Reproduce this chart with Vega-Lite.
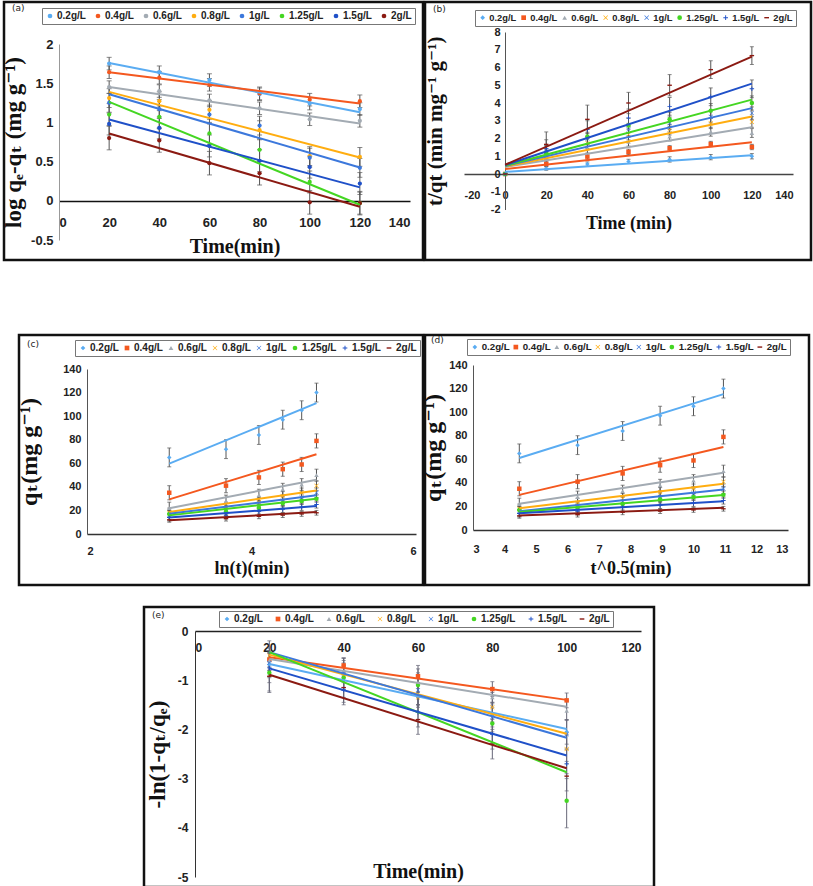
{
"$schema": "https://vega.github.io/schema/vega-lite/v6.json",
"padding": {"left": 0, "top": 0, "right": 1, "bottom": 1},
"background": "white",
"config": {
  "view": {"stroke": "#111", "strokeWidth": 2.5},
  "axis": {"grid": false, "ticks": false, "labelFont": "Liberation Sans, Arial, sans-serif", "labelFontWeight": "bold", "labelColor": "#222", "titleFont": "Liberation Serif, DejaVu Serif, serif", "titleFontWeight": "bold", "titleColor": "#111", "domainColor": "#555", "labelOverlap": false},
  "legend": {"labelFont": "Liberation Sans, Arial, sans-serif", "labelFontWeight": "bold", "labelFontSize": 10, "labelColor": "#222", "symbolSize": 22, "strokeColor": "#777", "padding": 3, "labelOffset": 2, "fillColor": "#fff", "symbolStrokeWidth": 0, "rowPadding": 0, "direction": "horizontal", "columns": 8, "gridAlign": "each"},
  "title": {"font": "DejaVu Sans", "fontSize": 9, "fontWeight": "normal", "color": "#222"}
},
"datasets": {
  "pa": [
    {"s":"0.2g/L","x":20,"y":1.75,"e":0.08},{"s":"0.2g/L","x":40,"y":1.64,"e":0.08},{"s":"0.2g/L","x":60,"y":1.54,"e":0.08},{"s":"0.2g/L","x":80,"y":1.36,"e":0.08},{"s":"0.2g/L","x":100,"y":1.24,"e":0.08},{"s":"0.2g/L","x":120,"y":1.17,"e":0.08},
    {"s":"0.4g/L","x":20,"y":1.64,"e":0.08},{"s":"0.4g/L","x":40,"y":1.57,"e":0.08},{"s":"0.4g/L","x":60,"y":1.48,"e":0.08},{"s":"0.4g/L","x":80,"y":1.37,"e":0.08},{"s":"0.4g/L","x":100,"y":1.29,"e":0.08},{"s":"0.4g/L","x":120,"y":1.27,"e":0.08},
    {"s":"0.6g/L","x":20,"y":1.45,"e":0.08},{"s":"0.6g/L","x":40,"y":1.40,"e":0.08},{"s":"0.6g/L","x":60,"y":1.28,"e":0.08},{"s":"0.6g/L","x":80,"y":1.18,"e":0.08},{"s":"0.6g/L","x":100,"y":1.04,"e":0.08},{"s":"0.6g/L","x":120,"y":1.02,"e":0.08},
    {"s":"0.8g/L","x":20,"y":1.31,"e":0.12},{"s":"0.8g/L","x":40,"y":1.27,"e":0.12},{"s":"0.8g/L","x":60,"y":1.16,"e":0.12},{"s":"0.8g/L","x":80,"y":0.90,"e":0.12},{"s":"0.8g/L","x":100,"y":0.57,"e":0.12},{"s":"0.8g/L","x":120,"y":0.56,"e":0.12},
    {"s":"1g/L","x":20,"y":1.25,"e":0.12},{"s":"1g/L","x":40,"y":1.17,"e":0.12},{"s":"1g/L","x":60,"y":1.10,"e":0.12},{"s":"1g/L","x":80,"y":0.96,"e":0.12},{"s":"1g/L","x":100,"y":0.55,"e":0.12},{"s":"1g/L","x":120,"y":0.42,"e":0.12},
    {"s":"1.25g/L","x":20,"y":1.10,"e":0.14},{"s":"1.25g/L","x":40,"y":1.07,"e":0.14},{"s":"1.25g/L","x":60,"y":0.86,"e":0.14},{"s":"1.25g/L","x":80,"y":0.65,"e":0.14},{"s":"1.25g/L","x":100,"y":0.24,"e":0.14},{"s":"1.25g/L","x":120,"y":-0.03,"e":0.14},
    {"s":"1.5g/L","x":20,"y":0.98,"e":0.14},{"s":"1.5g/L","x":40,"y":0.93,"e":0.14},{"s":"1.5g/L","x":60,"y":0.70,"e":0.14},{"s":"1.5g/L","x":80,"y":0.51,"e":0.14},{"s":"1.5g/L","x":100,"y":0.43,"e":0.14},{"s":"1.5g/L","x":120,"y":0.22,"e":0.14},
    {"s":"2g/L","x":20,"y":0.80,"e":0.15},{"s":"2g/L","x":40,"y":0.77,"e":0.15},{"s":"2g/L","x":60,"y":0.48,"e":0.15},{"s":"2g/L","x":80,"y":0.35,"e":0.15},{"s":"2g/L","x":100,"y":-0.02,"e":0.15},{"s":"2g/L","x":120,"y":-0.03,"e":0.15}
  ],
  "la": [
    {"s":"0.2g/L","x":20,"y":1.758},{"s":"0.2g/L","x":120,"y":1.130},
    {"s":"0.4g/L","x":20,"y":1.639},{"s":"0.4g/L","x":120,"y":1.241},
    {"s":"0.6g/L","x":20,"y":1.452},{"s":"0.6g/L","x":120,"y":0.986},
    {"s":"0.8g/L","x":20,"y":1.389},{"s":"0.8g/L","x":120,"y":0.553},
    {"s":"1g/L","x":20,"y":1.359},{"s":"1g/L","x":120,"y":0.425},
    {"s":"1.25g/L","x":20,"y":1.261},{"s":"1.25g/L","x":120,"y":-0.05},
    {"s":"1.5g/L","x":20,"y":1.037},{"s":"1.5g/L","x":120,"y":0.171},
    {"s":"2g/L","x":20,"y":0.859},{"s":"2g/L","x":120,"y":-0.076}
  ],
  "pb": [
    {"s":"0.2g/L","x":0,"y":0,"e":0},{"s":"0.2g/L","x":20,"y":0.31,"e":0.1},{"s":"0.2g/L","x":40,"y":0.56,"e":0.12},{"s":"0.2g/L","x":60,"y":0.71,"e":0.12},{"s":"0.2g/L","x":80,"y":0.82,"e":0.15},{"s":"0.2g/L","x":100,"y":0.95,"e":0.15},{"s":"0.2g/L","x":120,"y":1.00,"e":0.15},
    {"s":"0.4g/L","x":0,"y":0,"e":0},{"s":"0.4g/L","x":20,"y":0.57,"e":0.15},{"s":"0.4g/L","x":40,"y":0.98,"e":0.15},{"s":"0.4g/L","x":60,"y":1.25,"e":0.15},{"s":"0.4g/L","x":80,"y":1.45,"e":0.15},{"s":"0.4g/L","x":100,"y":1.69,"e":0.15},{"s":"0.4g/L","x":120,"y":1.52,"e":0.15},
    {"s":"0.6g/L","x":0,"y":0,"e":0},{"s":"0.6g/L","x":20,"y":0.91,"e":0.25},{"s":"0.6g/L","x":40,"y":1.43,"e":0.25},{"s":"0.6g/L","x":60,"y":1.82,"e":0.25},{"s":"0.6g/L","x":80,"y":2.11,"e":0.25},{"s":"0.6g/L","x":100,"y":2.38,"e":0.25},{"s":"0.6g/L","x":120,"y":2.31,"e":0.25},
    {"s":"0.8g/L","x":0,"y":0,"e":0},{"s":"0.8g/L","x":20,"y":1.11,"e":0.3},{"s":"0.8g/L","x":40,"y":1.74,"e":0.3},{"s":"0.8g/L","x":60,"y":2.22,"e":0.3},{"s":"0.8g/L","x":80,"y":2.50,"e":0.3},{"s":"0.8g/L","x":100,"y":2.86,"e":0.3},{"s":"0.8g/L","x":120,"y":2.93,"e":0.3},
    {"s":"1g/L","x":0,"y":0,"e":0},{"s":"1g/L","x":20,"y":1.25,"e":0.35},{"s":"1g/L","x":40,"y":2.00,"e":0.35},{"s":"1g/L","x":60,"y":2.50,"e":0.35},{"s":"1g/L","x":80,"y":2.86,"e":0.35},{"s":"1g/L","x":100,"y":3.23,"e":0.35},{"s":"1g/L","x":120,"y":3.43,"e":0.35},
    {"s":"1.25g/L","x":0,"y":0,"e":0},{"s":"1.25g/L","x":20,"y":1.18,"e":0.4},{"s":"1.25g/L","x":40,"y":2.11,"e":0.4},{"s":"1.25g/L","x":60,"y":2.73,"e":0.4},{"s":"1.25g/L","x":80,"y":3.08,"e":0.4},{"s":"1.25g/L","x":100,"y":3.57,"e":0.4},{"s":"1.25g/L","x":120,"y":4.00,"e":0.4},
    {"s":"1.5g/L","x":0,"y":0,"e":0},{"s":"1.5g/L","x":20,"y":1.43,"e":0.5},{"s":"1.5g/L","x":40,"y":2.50,"e":0.5},{"s":"1.5g/L","x":60,"y":3.16,"e":0.5},{"s":"1.5g/L","x":80,"y":3.81,"e":0.5},{"s":"1.5g/L","x":100,"y":4.35,"e":0.5},{"s":"1.5g/L","x":120,"y":4.80,"e":0.5},
    {"s":"2g/L","x":0,"y":0,"e":0},{"s":"2g/L","x":20,"y":1.67,"e":0.7},{"s":"2g/L","x":40,"y":3.08,"e":0.8},{"s":"2g/L","x":60,"y":4.00,"e":0.6},{"s":"2g/L","x":80,"y":5.00,"e":0.6},{"s":"2g/L","x":100,"y":5.88,"e":0.5},{"s":"2g/L","x":120,"y":6.67,"e":0.5}
  ],
  "lb": [
    {"s":"0.2g/L","x":0,"y":0.12},{"s":"0.2g/L","x":120,"y":1.05},
    {"s":"0.4g/L","x":0,"y":0.28},{"s":"0.4g/L","x":120,"y":1.79},
    {"s":"0.6g/L","x":0,"y":0.40},{"s":"0.6g/L","x":120,"y":2.63},
    {"s":"0.8g/L","x":0,"y":0.42},{"s":"0.8g/L","x":120,"y":3.24},
    {"s":"1g/L","x":0,"y":0.45},{"s":"1g/L","x":120,"y":3.71},
    {"s":"1.25g/L","x":0,"y":0.47},{"s":"1.25g/L","x":120,"y":4.19},
    {"s":"1.5g/L","x":0,"y":0.50},{"s":"1.5g/L","x":120,"y":5.09},
    {"s":"2g/L","x":0,"y":0.52},{"s":"2g/L","x":120,"y":6.61}
  ],
  "pc": [
    {"s":"0.2g/L","x":3.0,"y":65,"e":8},{"s":"0.2g/L","x":3.69,"y":72,"e":8},{"s":"0.2g/L","x":4.09,"y":84,"e":8},{"s":"0.2g/L","x":4.38,"y":97,"e":8},{"s":"0.2g/L","x":4.61,"y":105,"e":8},{"s":"0.2g/L","x":4.79,"y":120,"e":8},
    {"s":"0.4g/L","x":3.0,"y":35,"e":6},{"s":"0.4g/L","x":3.69,"y":41,"e":6},{"s":"0.4g/L","x":4.09,"y":48,"e":6},{"s":"0.4g/L","x":4.38,"y":55,"e":6},{"s":"0.4g/L","x":4.61,"y":59,"e":6},{"s":"0.4g/L","x":4.79,"y":79,"e":6},
    {"s":"0.6g/L","x":3.0,"y":22,"e":5},{"s":"0.6g/L","x":3.69,"y":28,"e":5},{"s":"0.6g/L","x":4.09,"y":33,"e":5},{"s":"0.6g/L","x":4.38,"y":38,"e":5},{"s":"0.6g/L","x":4.61,"y":42,"e":5},{"s":"0.6g/L","x":4.79,"y":50,"e":5},
    {"s":"0.8g/L","x":3.0,"y":18,"e":4},{"s":"0.8g/L","x":3.69,"y":23,"e":4},{"s":"0.8g/L","x":4.09,"y":27,"e":4},{"s":"0.8g/L","x":4.38,"y":32,"e":4},{"s":"0.8g/L","x":4.61,"y":35,"e":4},{"s":"0.8g/L","x":4.79,"y":41,"e":4},
    {"s":"1g/L","x":3.0,"y":16,"e":4},{"s":"1g/L","x":3.69,"y":20,"e":4},{"s":"1g/L","x":4.09,"y":24,"e":4},{"s":"1g/L","x":4.38,"y":28,"e":4},{"s":"1g/L","x":4.61,"y":31,"e":4},{"s":"1g/L","x":4.79,"y":35,"e":4},
    {"s":"1.25g/L","x":3.0,"y":17,"e":3},{"s":"1.25g/L","x":3.69,"y":19,"e":3},{"s":"1.25g/L","x":4.09,"y":22,"e":3},{"s":"1.25g/L","x":4.38,"y":26,"e":3},{"s":"1.25g/L","x":4.61,"y":28,"e":3},{"s":"1.25g/L","x":4.79,"y":30,"e":3},
    {"s":"1.5g/L","x":3.0,"y":14,"e":3},{"s":"1.5g/L","x":3.69,"y":16,"e":3},{"s":"1.5g/L","x":4.09,"y":19,"e":3},{"s":"1.5g/L","x":4.38,"y":21,"e":3},{"s":"1.5g/L","x":4.61,"y":23,"e":3},{"s":"1.5g/L","x":4.79,"y":25,"e":3},
    {"s":"2g/L","x":3.0,"y":12,"e":2},{"s":"2g/L","x":3.69,"y":13,"e":2},{"s":"2g/L","x":4.09,"y":15,"e":2},{"s":"2g/L","x":4.38,"y":16,"e":2},{"s":"2g/L","x":4.61,"y":17,"e":2},{"s":"2g/L","x":4.79,"y":18,"e":2}
  ],
  "lc": [
    {"s":"0.2g/L","x":3.0,"y":59.7},{"s":"0.2g/L","x":4.79,"y":111},
    {"s":"0.4g/L","x":3.0,"y":29.4},{"s":"0.4g/L","x":4.79,"y":67.6},
    {"s":"0.6g/L","x":3.0,"y":21.8},{"s":"0.6g/L","x":4.79,"y":46.1},
    {"s":"0.8g/L","x":3.0,"y":18.7},{"s":"0.8g/L","x":4.79,"y":37.0},
    {"s":"1g/L","x":3.0,"y":17.2},{"s":"1g/L","x":4.79,"y":32.8},
    {"s":"1.25g/L","x":3.0,"y":15.8},{"s":"1.25g/L","x":4.79,"y":30.0},
    {"s":"1.5g/L","x":3.0,"y":13.9},{"s":"1.5g/L","x":4.79,"y":23.7},
    {"s":"2g/L","x":3.0,"y":11.6},{"s":"2g/L","x":4.79,"y":18.7}
  ],
  "pd": [
    {"s":"0.2g/L","x":4.47,"y":65,"e":8},{"s":"0.2g/L","x":6.32,"y":72,"e":8},{"s":"0.2g/L","x":7.75,"y":84,"e":8},{"s":"0.2g/L","x":8.94,"y":97,"e":8},{"s":"0.2g/L","x":10.0,"y":105,"e":8},{"s":"0.2g/L","x":10.95,"y":120,"e":8},
    {"s":"0.4g/L","x":4.47,"y":35,"e":6},{"s":"0.4g/L","x":6.32,"y":41,"e":6},{"s":"0.4g/L","x":7.75,"y":48,"e":6},{"s":"0.4g/L","x":8.94,"y":55,"e":6},{"s":"0.4g/L","x":10.0,"y":59,"e":6},{"s":"0.4g/L","x":10.95,"y":79,"e":6},
    {"s":"0.6g/L","x":4.47,"y":22,"e":5},{"s":"0.6g/L","x":6.32,"y":28,"e":5},{"s":"0.6g/L","x":7.75,"y":33,"e":5},{"s":"0.6g/L","x":8.94,"y":38,"e":5},{"s":"0.6g/L","x":10.0,"y":42,"e":5},{"s":"0.6g/L","x":10.95,"y":50,"e":5},
    {"s":"0.8g/L","x":4.47,"y":18,"e":4},{"s":"0.8g/L","x":6.32,"y":23,"e":4},{"s":"0.8g/L","x":7.75,"y":27,"e":4},{"s":"0.8g/L","x":8.94,"y":32,"e":4},{"s":"0.8g/L","x":10.0,"y":35,"e":4},{"s":"0.8g/L","x":10.95,"y":41,"e":4},
    {"s":"1g/L","x":4.47,"y":16,"e":4},{"s":"1g/L","x":6.32,"y":20,"e":4},{"s":"1g/L","x":7.75,"y":24,"e":4},{"s":"1g/L","x":8.94,"y":28,"e":4},{"s":"1g/L","x":10.0,"y":31,"e":4},{"s":"1g/L","x":10.95,"y":35,"e":4},
    {"s":"1.25g/L","x":4.47,"y":17,"e":3},{"s":"1.25g/L","x":6.32,"y":19,"e":3},{"s":"1.25g/L","x":7.75,"y":22,"e":3},{"s":"1.25g/L","x":8.94,"y":26,"e":3},{"s":"1.25g/L","x":10.0,"y":28,"e":3},{"s":"1.25g/L","x":10.95,"y":30,"e":3},
    {"s":"1.5g/L","x":4.47,"y":14,"e":3},{"s":"1.5g/L","x":6.32,"y":16,"e":3},{"s":"1.5g/L","x":7.75,"y":19,"e":3},{"s":"1.5g/L","x":8.94,"y":21,"e":3},{"s":"1.5g/L","x":10.0,"y":23,"e":3},{"s":"1.5g/L","x":10.95,"y":25,"e":3},
    {"s":"2g/L","x":4.47,"y":12,"e":2},{"s":"2g/L","x":6.32,"y":13,"e":2},{"s":"2g/L","x":7.75,"y":15,"e":2},{"s":"2g/L","x":8.94,"y":16,"e":2},{"s":"2g/L","x":10.0,"y":17,"e":2},{"s":"2g/L","x":10.95,"y":18,"e":2}
  ],
  "ld": [
    {"s":"0.2g/L","x":4.47,"y":61.1},{"s":"0.2g/L","x":10.95,"y":115.3},
    {"s":"0.4g/L","x":4.47,"y":29.8},{"s":"0.4g/L","x":10.95,"y":70.5},
    {"s":"0.6g/L","x":4.47,"y":22.2},{"s":"0.6g/L","x":10.95,"y":48.6},
    {"s":"0.8g/L","x":4.47,"y":18.5},{"s":"0.8g/L","x":10.95,"y":39.2},
    {"s":"1g/L","x":4.47,"y":15.9},{"s":"1g/L","x":10.95,"y":34.4},
    {"s":"1.25g/L","x":4.47,"y":15.3},{"s":"1.25g/L","x":10.95,"y":29.8},
    {"s":"1.5g/L","x":4.47,"y":14.2},{"s":"1.5g/L","x":10.95,"y":24.4},
    {"s":"2g/L","x":4.47,"y":12.2},{"s":"2g/L","x":10.95,"y":18.8}
  ],
  "pe": [
    {"s":"0.2g/L","x":20,"y":-0.68,"e":0.25},{"s":"0.2g/L","x":40,"y":-0.95,"e":0.25},{"s":"0.2g/L","x":60,"y":-1.30,"e":0.25},{"s":"0.2g/L","x":80,"y":-1.70,"e":0.25},{"s":"0.2g/L","x":100,"y":-2.05,"e":0.25},
    {"s":"0.4g/L","x":20,"y":-0.58,"e":0.15},{"s":"0.4g/L","x":40,"y":-0.70,"e":0.15},{"s":"0.4g/L","x":60,"y":-0.92,"e":0.15},{"s":"0.4g/L","x":80,"y":-1.18,"e":0.15},{"s":"0.4g/L","x":100,"y":-1.41,"e":0.15},
    {"s":"0.6g/L","x":20,"y":-0.60,"e":0.2},{"s":"0.6g/L","x":40,"y":-0.85,"e":0.2},{"s":"0.6g/L","x":60,"y":-1.05,"e":0.2},{"s":"0.6g/L","x":80,"y":-1.35,"e":0.2},{"s":"0.6g/L","x":100,"y":-1.62,"e":0.2},
    {"s":"0.8g/L","x":20,"y":-0.50,"e":0.3},{"s":"0.8g/L","x":40,"y":-0.90,"e":0.3},{"s":"0.8g/L","x":60,"y":-1.35,"e":0.3},{"s":"0.8g/L","x":80,"y":-1.55,"e":0.3},{"s":"0.8g/L","x":100,"y":-2.40,"e":0.3},
    {"s":"1g/L","x":20,"y":-0.65,"e":0.3},{"s":"1g/L","x":40,"y":-0.85,"e":0.3},{"s":"1g/L","x":60,"y":-1.20,"e":0.3},{"s":"1g/L","x":80,"y":-1.75,"e":0.3},{"s":"1g/L","x":100,"y":-2.10,"e":0.3},
    {"s":"1.25g/L","x":20,"y":-0.85,"e":0.4},{"s":"1.25g/L","x":40,"y":-0.95,"e":0.4},{"s":"1.25g/L","x":60,"y":-1.10,"e":0.4},{"s":"1.25g/L","x":80,"y":-1.88,"e":0.4},{"s":"1.25g/L","x":100,"y":-3.45,"e":0.55},
    {"s":"1.5g/L","x":20,"y":-0.75,"e":0.3},{"s":"1.5g/L","x":40,"y":-1.20,"e":0.3},{"s":"1.5g/L","x":60,"y":-1.65,"e":0.3},{"s":"1.5g/L","x":80,"y":-2.10,"e":0.3},{"s":"1.5g/L","x":100,"y":-2.70,"e":0.3},
    {"s":"2g/L","x":20,"y":-0.92,"e":0.3},{"s":"2g/L","x":40,"y":-1.15,"e":0.3},{"s":"2g/L","x":60,"y":-1.80,"e":0.3},{"s":"2g/L","x":80,"y":-2.30,"e":0.3},{"s":"2g/L","x":100,"y":-2.95,"e":0.3}
  ],
  "le": [
    {"s":"0.2g/L","x":20,"y":-0.67},{"s":"0.2g/L","x":100,"y":-1.99},
    {"s":"0.4g/L","x":20,"y":-0.535},{"s":"0.4g/L","x":100,"y":-1.40},
    {"s":"0.6g/L","x":20,"y":-0.57},{"s":"0.6g/L","x":100,"y":-1.54},
    {"s":"0.8g/L","x":20,"y":-0.48},{"s":"0.8g/L","x":100,"y":-2.09},
    {"s":"1g/L","x":20,"y":-0.43},{"s":"1g/L","x":100,"y":-2.17},
    {"s":"1.25g/L","x":20,"y":-0.43},{"s":"1.25g/L","x":100,"y":-2.87},
    {"s":"1.5g/L","x":20,"y":-0.76},{"s":"1.5g/L","x":100,"y":-2.53},
    {"s":"2g/L","x":20,"y":-0.89},{"s":"2g/L","x":100,"y":-2.79}
  ]
},
"vconcat": [
  {
    "hconcat": [
      {
        "width": 419, "height": 258,
        "title": {"text": "(a)", "anchor": "start", "frame": "group", "orient": "top", "offset": -15, "dx": 8, "baseline": "middle"},
        "encoding": {
          "x": {"field": "x", "type": "quantitative", "scale": {"domain": [0, 140], "range": [55, 406], "nice": false, "zero": false},
                "axis": {"orient": "bottom", "offset": -59, "values": [0,20,40,60,80,100,120,140], "labelPadding": 15, "labelFontSize": 13, "domainColor": "#111", "domainWidth": 1.5, "title": "Time(min)", "titleFontSize": 20, "titleY": 35}},
          "y": {"field": "y", "type": "quantitative", "scale": {"domain": [-0.5, 2], "range": [238, 42], "nice": false, "zero": false},
                "axis": {"orient": "left", "offset": -55, "values": [-0.5,0,0.5,1,1.5,2], "labelExpr": "'' + datum.value", "labelPadding": 6, "labelFontSize": 13, "domainColor": "#999", "title": "log qₑ-qₜ (mg g⁻¹)", "titleFontSize": 23, "titleX": -34}}
        },
        "layer": [
          {"data": {"name": "pa"}, "mark": {"type": "errorbar", "color": "#555", "ticks": true, "size": 5, "thickness": 1}, "encoding": {"yError": {"field": "e"}}},
          {"data": {"name": "pa"}, "mark": {"type": "point", "filled": true, "shape": "circle", "size": 18, "opacity": 1},
           "encoding": {"color": {"field": "s", "type": "nominal",
             "scale": {"domain": ["0.2g/L","0.4g/L","0.6g/L","0.8g/L","1g/L","1.25g/L","1.5g/L","2g/L"], "range": ["#5aacf2","#f4581f","#a3abb3","#ffad10","#3c78dc","#44d622","#1f50c8","#8b1a12"]},
             "legend": {"title": null, "orient": "none", "legendX": 38, "legendY": 6, "columnPadding": 7, "labelFontSize": 10, "symbolType": "circle"}}}},
          {"data": {"name": "la"}, "mark": {"type": "line", "strokeWidth": 2}, "encoding": {"color": {"field": "s", "type": "nominal"}}}
        ]
      },
      {
        "width": 386, "height": 258,
        "title": {"text": "(b)", "anchor": "start", "frame": "group", "orient": "top", "offset": -16, "dx": 8, "baseline": "middle"},
        "encoding": {
          "x": {"field": "x", "type": "quantitative", "scale": {"domain": [-20, 140], "range": [39, 368], "nice": false, "zero": false},
                "axis": {"orient": "bottom", "offset": -86, "values": [-20,0,20,40,60,80,100,120,140], "labelExpr": "'' + datum.value", "labelPadding": 15, "labelFontSize": 11, "domainColor": "#444", "domainWidth": 1.5, "title": "Time (min)", "titleFontSize": 18, "titleY": 40}},
          "y": {"field": "y", "type": "quantitative", "scale": {"domain": [-2, 8], "range": [207.5, 30], "nice": false, "zero": false},
                "axis": {"orient": "left", "offset": -80, "values": [-2,-1,0,1,2,3,4,5,6,7,8], "labelExpr": "'' + datum.value", "labelPadding": 5, "labelFontSize": 11, "domainColor": "#555", "title": "t/qt (min mg⁻¹ g⁻¹)", "titleFontSize": 21, "titleX": -60}}
        },
        "layer": [
          {"data": {"name": "pb"}, "mark": {"type": "errorbar", "color": "#555", "ticks": true, "size": 4, "thickness": 1}, "encoding": {"yError": {"field": "e"}}},
          {"data": {"name": "pb"}, "mark": {"type": "point", "filled": true, "size": 20, "opacity": 1},
           "encoding": {
             "color": {"field": "s", "type": "nominal",
               "scale": {"domain": ["0.2g/L","0.4g/L","0.6g/L","0.8g/L","1g/L","1.25g/L","1.5g/L","2g/L"], "range": ["#5aacf2","#f4581f","#a3abb3","#ffad10","#3c78dc","#44d622","#1f50c8","#8b1a12"]},
               "legend": {"title": null, "orient": "none", "legendX": 50, "legendY": 8, "columnPadding": 2, "labelFontSize": 9.3}},
             "shape": {"field": "s", "type": "nominal",
               "scale": {"domain": ["0.2g/L","0.4g/L","0.6g/L","0.8g/L","1g/L","1.25g/L","1.5g/L","2g/L"], "range": ["diamond","square","triangle-up","M-1,-0.8L-0.8,-1L0,-0.2L0.8,-1L1,-0.8L0.2,0L1,0.8L0.8,1L0,0.2L-0.8,1L-1,0.8L-0.2,0Z","M-1,-0.8L-0.8,-1L0,-0.2L0.8,-1L1,-0.8L0.2,0L1,0.8L0.8,1L0,0.2L-0.8,1L-1,0.8L-0.2,0Z","circle","M-1,-0.2L-0.2,-0.2L-0.2,-1L0.2,-1L0.2,-0.2L1,-0.2L1,0.2L0.2,0.2L0.2,1L-0.2,1L-0.2,0.2L-1,0.2Z","M-1,-0.3L1,-0.3L1,0.3L-1,0.3Z"]},
               "legend": {"title": null, "orient": "none", "legendX": 50, "legendY": 8, "columnPadding": 2, "labelFontSize": 9.3}}}},
          {"data": {"name": "lb"}, "mark": {"type": "line", "strokeWidth": 2}, "encoding": {"color": {"field": "s", "type": "nominal"}}}
        ]
      }
    ],
    "spacing": 2, "bounds": "flush",
    "resolve": {"legend": {"color": "independent", "shape": "independent"}}
  },
  {"width": 1, "height": 35, "data": {"values": []}, "mark": "point", "view": {"stroke": null, "fill": "white"}},
  {
    "hconcat": [
      {"width": 13, "height": 1, "data": {"values": []}, "mark": "point", "view": {"stroke": null, "fill": "white"}},
      {
        "width": 404, "height": 250,
        "title": {"text": "(c)", "anchor": "start", "frame": "group", "orient": "top", "offset": -18, "dx": 8, "baseline": "middle"},
        "encoding": {
          "x": {"field": "x", "type": "quantitative", "scale": {"domain": [2, 6], "range": [68, 397], "nice": false, "zero": false},
                "axis": {"orient": "bottom", "offset": -51, "values": [2,4,6], "labelPadding": 11, "labelFontSize": 11, "domainColor": "#333", "domainWidth": 1.5, "title": "ln(t)(min)", "titleFontSize": 18, "titleY": 25}},
          "y": {"field": "y", "type": "quantitative", "scale": {"domain": [0, 140], "range": [199, 34], "nice": false, "zero": false},
                "axis": {"orient": "left", "offset": -68, "values": [0,20,40,60,80,100,120,140], "labelPadding": 6, "labelFontSize": 11, "domainColor": "#555", "title": "qₜ(mg g⁻¹)", "titleFontSize": 24, "titleX": -46}}
        },
        "layer": [
          {"data": {"name": "pc"}, "mark": {"type": "errorbar", "color": "#555", "ticks": true, "size": 4, "thickness": 1}, "encoding": {"yError": {"field": "e"}}},
          {"data": {"name": "pc"}, "mark": {"type": "point", "filled": true, "size": 20, "opacity": 1},
           "encoding": {
             "color": {"field": "s", "type": "nominal",
               "scale": {"domain": ["0.2g/L","0.4g/L","0.6g/L","0.8g/L","1g/L","1.25g/L","1.5g/L","2g/L"], "range": ["#5aacf2","#f4581f","#a3abb3","#ffad10","#3c78dc","#44d622","#1f50c8","#8b1a12"]},
               "legend": {"title": null, "orient": "none", "legendX": 56, "legendY": 5, "columnPadding": 3, "labelFontSize": 10}},
             "shape": {"field": "s", "type": "nominal",
               "scale": {"domain": ["0.2g/L","0.4g/L","0.6g/L","0.8g/L","1g/L","1.25g/L","1.5g/L","2g/L"], "range": ["diamond","square","triangle-up","M-1,-0.8L-0.8,-1L0,-0.2L0.8,-1L1,-0.8L0.2,0L1,0.8L0.8,1L0,0.2L-0.8,1L-1,0.8L-0.2,0Z","M-1,-0.8L-0.8,-1L0,-0.2L0.8,-1L1,-0.8L0.2,0L1,0.8L0.8,1L0,0.2L-0.8,1L-1,0.8L-0.2,0Z","circle","M-1,-0.2L-0.2,-0.2L-0.2,-1L0.2,-1L0.2,-0.2L1,-0.2L1,0.2L0.2,0.2L0.2,1L-0.2,1L-0.2,0.2L-1,0.2Z","M-1,-0.3L1,-0.3L1,0.3L-1,0.3Z"]},
               "legend": {"title": null, "orient": "none", "legendX": 56, "legendY": 5, "columnPadding": 3, "labelFontSize": 10}}}},
          {"data": {"name": "lc"}, "mark": {"type": "line", "strokeWidth": 2}, "encoding": {"color": {"field": "s", "type": "nominal"}}}
        ]
      },
      {
        "width": 384, "height": 250,
        "title": {"text": "(d)", "anchor": "start", "frame": "group", "orient": "top", "offset": -14, "dx": 6, "baseline": "middle"},
        "encoding": {
          "x": {"field": "x", "type": "quantitative", "scale": {"domain": [3, 13], "range": [48, 363], "nice": false, "zero": false},
                "axis": {"orient": "bottom", "offset": -55, "values": [3,4,5,6,7,8,9,10,11,12,13], "labelPadding": 13, "labelFontSize": 11, "domainColor": "#333", "domainWidth": 1.5, "title": "t^0.5(min)", "titleFontSize": 18, "titleY": 29}},
          "y": {"field": "y", "type": "quantitative", "scale": {"domain": [0, 140], "range": [195, 30], "nice": false, "zero": false},
                "axis": {"orient": "left", "offset": -48, "values": [0,20,40,60,80,100,120,140], "labelPadding": 6, "labelFontSize": 11, "domainColor": "#555", "title": "qₜ(mg g⁻¹)", "titleFontSize": 24, "titleX": -28}}
        },
        "layer": [
          {"data": {"name": "pd"}, "mark": {"type": "errorbar", "color": "#555", "ticks": true, "size": 4, "thickness": 1}, "encoding": {"yError": {"field": "e"}}},
          {"data": {"name": "pd"}, "mark": {"type": "point", "filled": true, "size": 20, "opacity": 1},
           "encoding": {
             "color": {"field": "s", "type": "nominal",
               "scale": {"domain": ["0.2g/L","0.4g/L","0.6g/L","0.8g/L","1g/L","1.25g/L","1.5g/L","2g/L"], "range": ["#5aacf2","#f4581f","#a3abb3","#ffad10","#3c78dc","#44d622","#1f50c8","#8b1a12"]},
               "legend": {"title": null, "orient": "none", "legendX": 42, "legendY": 4, "columnPadding": 1, "labelFontSize": 9.7}},
             "shape": {"field": "s", "type": "nominal",
               "scale": {"domain": ["0.2g/L","0.4g/L","0.6g/L","0.8g/L","1g/L","1.25g/L","1.5g/L","2g/L"], "range": ["diamond","square","triangle-up","M-1,-0.8L-0.8,-1L0,-0.2L0.8,-1L1,-0.8L0.2,0L1,0.8L0.8,1L0,0.2L-0.8,1L-1,0.8L-0.2,0Z","M-1,-0.8L-0.8,-1L0,-0.2L0.8,-1L1,-0.8L0.2,0L1,0.8L0.8,1L0,0.2L-0.8,1L-1,0.8L-0.2,0Z","circle","M-1,-0.2L-0.2,-0.2L-0.2,-1L0.2,-1L0.2,-0.2L1,-0.2L1,0.2L0.2,0.2L0.2,1L-0.2,1L-0.2,0.2L-1,0.2Z","M-1,-0.3L1,-0.3L1,0.3L-1,0.3Z"]},
               "legend": {"title": null, "orient": "none", "legendX": 42, "legendY": 4, "columnPadding": 1, "labelFontSize": 9.7}}}},
          {"data": {"name": "ld"}, "mark": {"type": "line", "strokeWidth": 2}, "encoding": {"color": {"field": "s", "type": "nominal"}}}
        ]
      }
    ],
    "spacing": 2, "bounds": "flush",
    "resolve": {"legend": {"color": "independent", "shape": "independent"}}
  },
  {
    "hconcat": [
      {"width": 140, "height": 1, "data": {"values": []}, "mark": "point", "view": {"stroke": null, "fill": "white"}},
      {
        "width": 510, "height": 280,
        "title": {"text": "(e)", "anchor": "start", "frame": "group", "orient": "top", "offset": -17, "dx": 8, "baseline": "middle"},
        "encoding": {
          "x": {"field": "x", "type": "quantitative", "scale": {"domain": [0, 120], "range": [51, 497], "nice": false, "zero": false},
                "axis": {"orient": "bottom", "offset": -256, "values": [0,20,40,60,80,100,120], "labelPadding": 11, "labelFontSize": 12, "domainColor": "#222", "domainWidth": 1.5, "title": "Time(min)", "titleFontSize": 20, "titleY": 230}},
          "y": {"field": "y", "type": "quantitative", "scale": {"domain": [-5, 0], "range": [270, 24], "nice": false, "zero": false},
                "axis": {"orient": "left", "offset": -51, "values": [-5,-4,-3,-2,-1,0], "labelExpr": "'' + datum.value", "labelPadding": 7, "labelFontSize": 12, "domainColor": "#333", "title": "-ln(1-qₜ/qₑ)", "titleFontSize": 23, "titleX": -26}}
        },
        "layer": [
          {"data": {"name": "pe"}, "mark": {"type": "errorbar", "color": "#667", "ticks": true, "size": 4, "thickness": 1}, "encoding": {"yError": {"field": "e"}}},
          {"data": {"name": "pe"}, "mark": {"type": "point", "filled": true, "size": 20, "opacity": 1},
           "encoding": {
             "color": {"field": "s", "type": "nominal",
               "scale": {"domain": ["0.2g/L","0.4g/L","0.6g/L","0.8g/L","1g/L","1.25g/L","1.5g/L","2g/L"], "range": ["#5aacf2","#f4581f","#a3abb3","#ffad10","#3c78dc","#44d622","#1f50c8","#8b1a12"]},
               "legend": {"title": null, "orient": "none", "legendX": 75, "legendY": 4, "columnPadding": 10, "labelFontSize": 10}},
             "shape": {"field": "s", "type": "nominal",
               "scale": {"domain": ["0.2g/L","0.4g/L","0.6g/L","0.8g/L","1g/L","1.25g/L","1.5g/L","2g/L"], "range": ["diamond","square","triangle-up","M-1,-0.8L-0.8,-1L0,-0.2L0.8,-1L1,-0.8L0.2,0L1,0.8L0.8,1L0,0.2L-0.8,1L-1,0.8L-0.2,0Z","M-1,-0.8L-0.8,-1L0,-0.2L0.8,-1L1,-0.8L0.2,0L1,0.8L0.8,1L0,0.2L-0.8,1L-1,0.8L-0.2,0Z","circle","M-1,-0.2L-0.2,-0.2L-0.2,-1L0.2,-1L0.2,-0.2L1,-0.2L1,0.2L0.2,0.2L0.2,1L-0.2,1L-0.2,0.2L-1,0.2Z","M-1,-0.3L1,-0.3L1,0.3L-1,0.3Z"]},
               "legend": {"title": null, "orient": "none", "legendX": 75, "legendY": 4, "columnPadding": 10, "labelFontSize": 10}}}},
          {"data": {"name": "le"}, "mark": {"type": "line", "strokeWidth": 2}, "encoding": {"color": {"field": "s", "type": "nominal"}}}
        ]
      }
    ],
    "spacing": 0, "bounds": "flush",
    "resolve": {"legend": {"color": "independent", "shape": "independent"}}
  }
],
"spacing": 18,
"resolve": {"legend": {"color": "independent", "shape": "independent"}}
}
